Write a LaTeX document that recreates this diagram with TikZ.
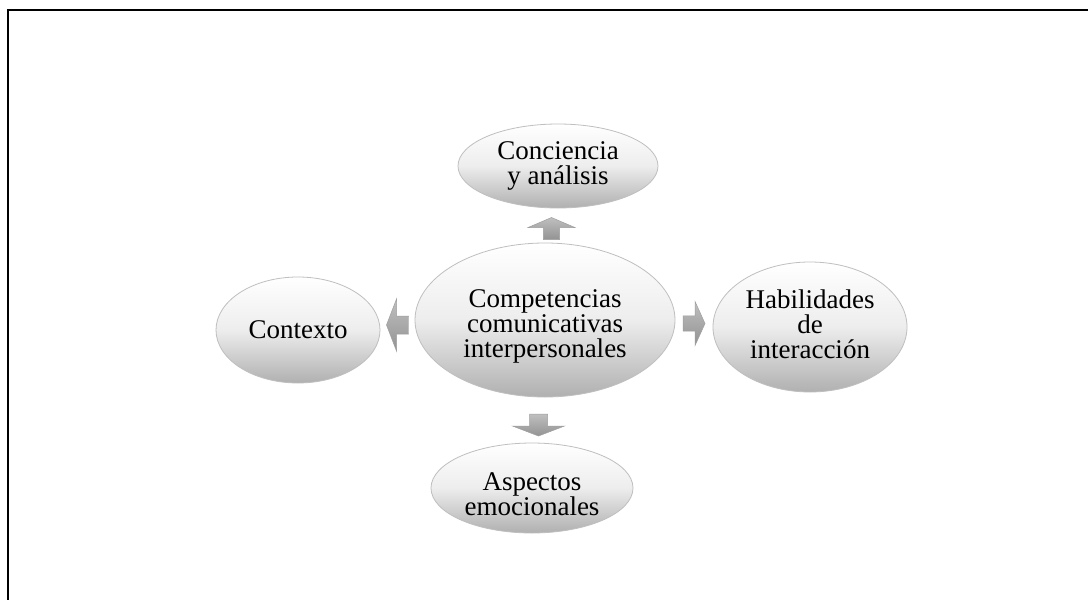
\documentclass[tikz,border=0pt]{standalone}
\usepackage{fontspec}
\setmainfont{Liberation Serif}
\usetikzlibrary{shapes.geometric,calc}
\tikzset{
  bubble/.style={ellipse, inner sep=0pt, draw=gray!50, line width=0.8pt,
    top color=white, bottom color=gray!62, middle color=gray!14},
  btext/.style={align=center, inner sep=0pt, font=\fontsize{27}{25}\selectfont},
  arrowfill/.style={draw=gray!75, line width=0.5pt, top color=gray!50, bottom color=gray!85},
  pics/barrow/.style={code={
    \path[arrowfill] (-11,-9) -- (1,-9) -- (1,-26) -- (11,0) -- (1,26) -- (1,9) -- (-11,9) -- cycle;
  }},
  frame/.style={line width=2pt, black}
}
\begin{document}
\begin{tikzpicture}[x=1pt,y=-1pt]
\useasboundingbox (0,0) rectangle (1088,600);
\fill[white] (0,0) rectangle (1088,600);
\draw[frame] (8,600) -- (8,10) -- (1088,10);

\node[bubble, minimum width=260, minimum height=154] (c) at (545,320) {};
\node[bubble, minimum width=200, minimum height=84] (t) at (558,166) {};
\node[bubble, minimum width=164, minimum height=106] (l) at (298,330) {};
\node[bubble, minimum width=194, minimum height=130] (r) at (810,327) {};
\node[bubble, minimum width=202, minimum height=90] (b) at (532,488) {};

\node[btext] (ct) at ($(c)+(0,6)$) {Competencias\\comunicativas\\interpersonales};
\node[btext] (tt) at (t) {Conciencia\\y análisis};
\node[btext] (lt) at (l) {Contexto};
\node[btext] (rt) at ($(r)+(0,-3)$) {Habilidades\\de\\interacción};
\node[btext] (bt) at ($(b)+(0,6)$) {Aspectos\\emocionales};

\coordinate (au) at ($(c.north)!0.5!(t.south)+(0,3)$);
\coordinate (al) at ($(c.west)!0.5!(l.east)$);
\coordinate (ar) at ($(c.east)!0.5!(r.west)$);
\coordinate (ad) at ($(c.south)!0.5!(b.north)+(0,5)$);
\pic[rotate=90, yscale=0.9] at (au) {barrow};
\pic[rotate=180] at (al) {barrow};
\pic[yscale=0.85] at (ar) {barrow};
\pic[rotate=-90] at (ad) {barrow};
\end{tikzpicture}
\end{document}
